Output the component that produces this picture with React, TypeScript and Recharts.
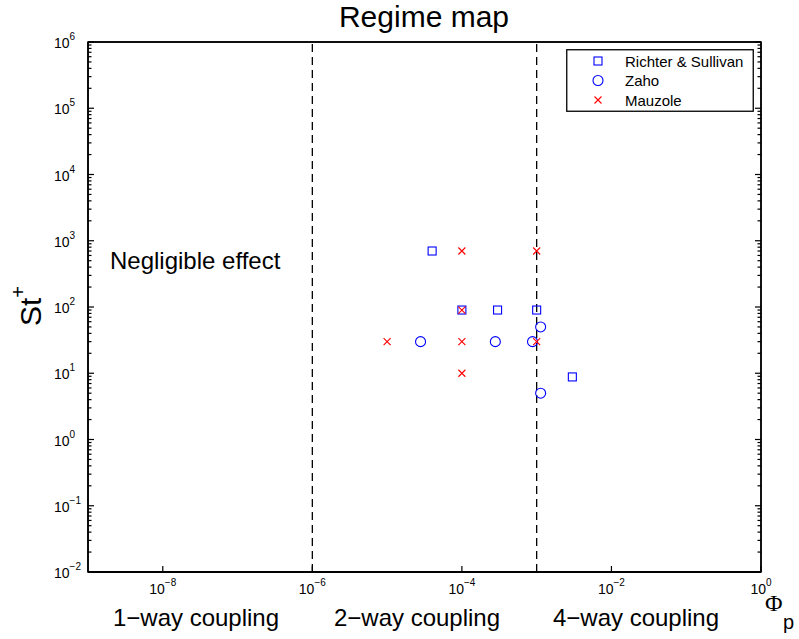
import React from 'react';
import {
  ScatterChart,
  Scatter,
  XAxis,
  YAxis,
  ReferenceLine,
  ReferenceArea,
  Legend,
  Customized,
} from 'recharts';

const FONT = '"Liberation Sans", Arial, Helvetica, sans-serif';
const SERIF = '"Liberation Serif", "Times New Roman", serif';

// Particle volume fraction (Phi_p) and Stokes number (St+) per data source
const richterPhi = [4e-5, 1e-4, 3e-4, 1e-3, 3e-3];
const richterSt = [700, 90, 90, 90, 8.8];

const zahoPhi = [2.8e-5, 2.8e-4, 8.8e-4, 1.13e-3, 1.13e-3];
const zahoSt = [30, 30, 30, 50, 5];

const mauzolePhi = [1e-5, 1e-4, 1e-4, 1e-4, 1e-4, 1e-3, 1e-3];
const mauzoleSt = [30, 700, 90, 30, 10, 700, 30];

// Axis ticks
const xTicks = [1e-8, 1e-6, 1e-4, 1e-2, 1];
const yDecades = [1e-2, 1e-1, 1, 10, 100, 1e3, 1e4, 1e5, 1e6];
const yMinorSteps = [2, 3, 4, 5, 6, 7, 8, 9];
const xDomain = [1e-9, 1];
const yDomain = [1e-2, 1e6];

// Coupling regime boundaries and labels
const regimeBounds = [1e-6, 1e-3];
const regimeLabels = ['1\u2212way coupling', '2\u2212way coupling', '4\u2212way coupling'];

const yTicks = [
  ...yDecades,
  ...yDecades.slice(0, -1).flatMap((d) => yMinorSteps.map((m) => m * d)),
].sort((a, b) => a - b);

const toPoints = (xs: number[], ys: number[]) => xs.map((x, i) => ({ x, y: ys[i] }));

const BLUE = '#0000ff';
const RED = '#ff0000';

const SquareMark = ({ cx, cy }: any) => (
  <rect x={cx - 4} y={cy - 4} width={8} height={8} fill="none" stroke={BLUE} strokeWidth={1.1} />
);
const CircleMark = ({ cx, cy }: any) => (
  <circle cx={cx} cy={cy} r={5} fill="none" stroke={BLUE} strokeWidth={1.1} />
);
const CrossMark = ({ cx, cy }: any) => (
  <path
    d={`M${cx - 3.5},${cy - 3.5}L${cx + 3.5},${cy + 3.5}M${cx - 3.5},${cy + 3.5}L${cx + 3.5},${cy - 3.5}`}
    fill="none"
    stroke={RED}
    strokeWidth={1.1}
  />
);

const series = [
  { name: 'Richter & Sullivan', color: BLUE, Mark: SquareMark, data: toPoints(richterPhi, richterSt) },
  { name: 'Zaho', color: BLUE, Mark: CircleMark, data: toPoints(zahoPhi, zahoSt) },
  { name: 'Mauzole', color: RED, Mark: CrossMark, data: toPoints(mauzolePhi, mauzoleSt) },
];

const isDecade = (v: number) => {
  const l = Math.log10(v);
  return Math.abs(l - Math.round(l)) < 1e-6;
};
const expText = (v: number) => {
  const e = Math.round(Math.log10(v));
  return e < 0 ? '\u2212' + Math.abs(e) : String(e);
};

const PowerLabel = ({ x, y, value, anchor }: any) => (
  <text x={x} y={y} textAnchor={anchor} fontFamily={FONT} fontSize={14} fill="#000" stroke="none">
    10
    <tspan dy={-8} fontSize={10}>
      {expText(value)}
    </tspan>
  </text>
);

// Tick marks are thin filled bars pointing into the plot area
const VTickBar = ({ x, y, len }: any) => (
  <rect x={x - 0.6} y={len < 0 ? y + len : y} width={1.2} height={Math.abs(len)} fill="#000" stroke="none" />
);
const HTickBar = ({ x, y, len }: any) => (
  <rect x={len < 0 ? x + len : x} y={y - 0.6} width={Math.abs(len)} height={1.2} fill="#000" stroke="none" />
);

const BottomTick = ({ x, y, payload }: any) => {
  const px = Number(x);
  const py = Number(y);
  return (
    <g>
      <VTickBar x={px} y={py} len={-6} />
      <PowerLabel x={px} y={py + 22} value={payload.value} anchor="middle" />
    </g>
  );
};

const TopTick = ({ x, y }: any) => <VTickBar x={Number(x)} y={Number(y)} len={6} />;

const LeftTick = ({ x, y, payload }: any) => {
  const px = Number(x);
  const py = Number(y);
  const major = isDecade(payload.value);
  return (
    <g>
      <HTickBar x={px} y={py} len={major ? 6 : 3.5} />
      {major && <PowerLabel x={px - 34} y={py + 6} value={payload.value} anchor="start" />}
    </g>
  );
};

const RightTick = ({ x, y, payload }: any) => {
  const major = isDecade(payload.value);
  return <HTickBar x={Number(x)} y={Number(y)} len={major ? -6 : -3.5} />;
};

const LegendBox = ({ payload }: any) => {
  const names = new Set((payload || []).map((p: any) => p.value));
  const rows = series.filter((s) => names.has(s.name));
  return (
    <svg width={188} height={63} style={{ display: 'block' }}>
      <rect x={0.75} y={0.75} width={186.5} height={61.5} fill="#fff" stroke="#000" strokeWidth={1.3} />
      {rows.map((s, i) => {
        const cy = 12 + i * 19.5;
        const M = s.Mark;
        return (
          <g key={s.name}>
            <M cx={32} cy={cy} />
            <text x={59} y={cy + 5.5} fontFamily={FONT} fontSize={15} fill="#000">
              {s.name}
            </text>
          </g>
        );
      })}
    </svg>
  );
};

const Annotations = () => (
  <g fontFamily={FONT} fill="#000">
    <text x={424} y={27} textAnchor="middle" fontSize={30}>
      Regime map
    </text>
    <text transform="rotate(-90)" x={-326} y={41} fontSize={30}>
      St
      <tspan dy={-16} fontSize={20}>
        +
      </tspan>
    </text>
    <text x={110} y={269} fontSize={24}>
      Negligible effect
    </text>
    {regimeLabels.map((label, i) => (
      <text key={label} x={[196, 417, 636][i]} y={626} textAnchor="middle" fontSize={24}>
        {label}
      </text>
    ))}
    <text x={765} y={611} fontFamily={SERIF} fontSize={24}>
      {'\u03A6'}
    </text>
    <text x={783} y={629} fontSize={20}>
      p
    </text>
  </g>
);

export default function App() {
  return (
    <div style={{ position: 'absolute', left: 0, top: 0, background: '#fff' }}>
      <ScatterChart
        width={799}
        height={639}
        margin={{ top: 41, right: 37, bottom: 37, left: 28 }}
      >
        <XAxis
          xAxisId={0}
          dataKey="x"
          type="number"
          scale="log"
          domain={xDomain}
          allowDataOverflow
          ticks={xTicks}
          interval={0}
          height={30}
          tickSize={0}
          tickMargin={0}
          tickLine={false}
          tick={BottomTick}
          stroke="#000"
          axisLine={{ stroke: '#000', strokeWidth: 1.8 }}
        />
        <XAxis
          xAxisId="top"
          orientation="top"
          type="number"
          scale="log"
          domain={xDomain}
          allowDataOverflow
          ticks={xTicks}
          interval={0}
          height={1}
          tickSize={0}
          tickMargin={0}
          tickLine={false}
          tick={TopTick}
          stroke="#000"
          axisLine={{ stroke: '#000', strokeWidth: 1.4 }}
        />
        <YAxis
          yAxisId={0}
          dataKey="y"
          type="number"
          scale="log"
          domain={yDomain}
          allowDataOverflow
          ticks={yTicks}
          interval={0}
          width={60}
          tickSize={0}
          tickMargin={0}
          tickLine={false}
          tick={LeftTick}
          stroke="#000"
          axisLine={{ stroke: '#000', strokeWidth: 1.6 }}
        />
        <YAxis
          yAxisId="right"
          orientation="right"
          type="number"
          scale="log"
          domain={yDomain}
          allowDataOverflow
          ticks={yTicks}
          interval={0}
          width={1}
          tickSize={0}
          tickMargin={0}
          tickLine={false}
          tick={RightTick}
          stroke="#000"
          axisLine={{ stroke: '#000', strokeWidth: 1.4 }}
        />
        <ReferenceArea
          xAxisId={0}
          yAxisId={0}
          x1={xDomain[0]}
          x2={xDomain[1]}
          y1={yDomain[0]}
          y2={yDomain[1]}
          fill="none"
          fillOpacity={0}
          stroke="#000"
          strokeWidth={1.5}
          strokeOpacity={1}
          ifOverflow="visible"
        />
        {regimeBounds.map((b) => (
          <ReferenceLine
            key={b}
            x={b}
            xAxisId={0}
            yAxisId={0}
            stroke="#000"
            strokeWidth={1.3}
            strokeDasharray="8 5"
          />
        ))}
        {series.map((s) => (
          <Scatter
            key={s.name}
            name={s.name}
            data={s.data}
            fill={s.color}
            xAxisId={0}
            yAxisId={0}
            shape={(p: any) => <s.Mark cx={p.cx} cy={p.cy} />}
            isAnimationActive={false}
          />
        ))}
        <Legend
          layout="vertical"
          align="center"
          verticalAlign="middle"
          wrapperStyle={{ left: 566, top: 49, width: 188, height: 63 }}
          content={LegendBox}
        />
        <Customized component={Annotations} />
      </ScatterChart>
    </div>
  );
}
